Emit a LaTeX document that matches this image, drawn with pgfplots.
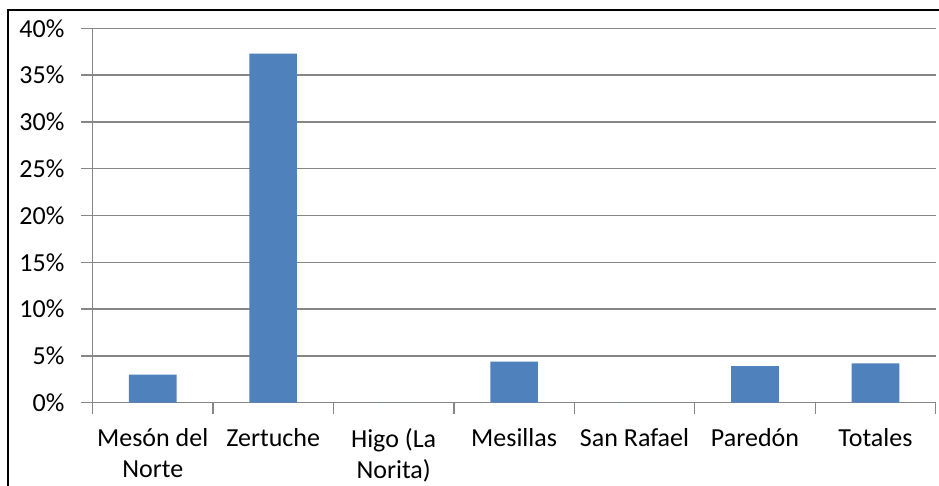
\documentclass[border=0pt]{standalone}
\usepackage{fontspec}
\setmainfont{Carlito}
\usepackage{pgfplots}
\pgfplotsset{compat=1.18}
\definecolor{barblue}{HTML}{4F81BD}
\definecolor{gridgray}{HTML}{868686}
\begin{document}
\begin{tikzpicture}
% picture frame: 1px = 0.5pt, axis origin at (0,0)
\useasboundingbox (-46.25pt,-41.65pt) rectangle (423.25pt,201.35pt);
\fill[white] (-46.25pt,-41.65pt) rectangle (423.25pt,201.35pt);
\begin{axis}[
  scale only axis,
  width=421.6pt, height=187.2pt,
  ybar, bar width=23.8pt,
  xmin=-0.5, xmax=6.5, ymin=0, ymax=40,
  axis lines*=left,
  axis line style={gridgray, line width=0.7pt},
  ymajorgrids,
  grid style={gridgray, line width=0.7pt},
  tick align=outside,
  major tick length=5.5pt,
  minor tick length=5.5pt,
  tick style={gridgray, line width=0.7pt},
  xtick={0,...,6},
  major x tick style={draw=none},
  minor xtick={-0.5,0.5,...,6.5},
  xticklabels={{Mesón del\\Norte},Zertuche,{Higo (La\\Norita)},Mesillas,San Rafael,Paredón,Totales},
  ytick={0,5,...,40},
  yticklabels={0\%,5\%,10\%,15\%,20\%,25\%,30\%,35\%,40\%},
  tick label style={font=\fontsize{13}{15.5}\selectfont, text=black},
  xticklabel style={align=center, yshift=-4pt},
  yticklabel style={xshift=-5pt},
]
\addplot[fill=barblue, draw=none] coordinates {
  (0,3.0) (1,37.3) (2,0) (3,4.4) (4,0) (5,3.9) (6,4.2)
};
\end{axis}
\draw[black, line width=1pt] (-42pt,-60pt) -- (-42pt,196.35pt) -- (440pt,196.35pt);
\end{tikzpicture}
\end{document}
